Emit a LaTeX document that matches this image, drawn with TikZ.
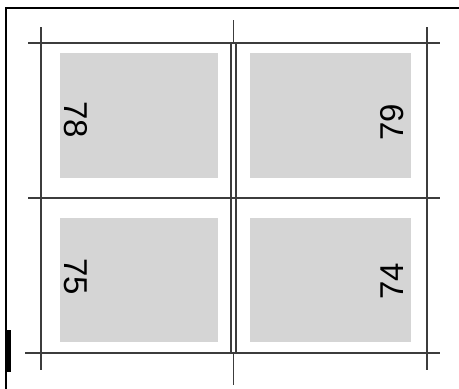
\documentclass[tikz,border=0pt]{standalone}
\usepackage{fontspec}
\setmainfont{Liberation Sans}
\definecolor{cardgrey}{RGB}{213,213,213}
\definecolor{linegrey}{RGB}{60,60,60}
\begin{document}
\begin{tikzpicture}[x=1pt,y=-1pt,
  card/.style={fill=cardgrey,draw=none,inner sep=0pt,outer sep=0pt},
  num/.style={font=\fontsize{33}{33}\selectfont,text=black,inner sep=0pt},
  crop/.style={draw=linegrey,line width=1.1pt},
  frame/.style={draw=black,line width=1.6pt}]
\useasboundingbox[fill=white] (0,0) rectangle (459,389);
% outer frame
\draw[frame] (6,389) -- (6,8) -- (459,8);
\fill[black] (6,330) rectangle (11,372);
% cards
\node[card,minimum width=158pt,minimum height=125pt] (c78) at (139,115.5) {};
\node[card,minimum width=161pt,minimum height=125pt] (c79) at (330.5,115.5) {};
\node[card,minimum width=158pt,minimum height=124pt] (c75) at (139,280) {};
\node[card,minimum width=161pt,minimum height=124pt] (c74) at (330.5,280) {};
% numbers
\node[num,rotate=-90] (n78) at (76,120) {78};
\node[num,rotate=90] (n79) at (392,122) {79};
\node[num,rotate=-90] (n75) at (76,277) {75};
\node[num,rotate=90] (n74) at (392,281) {74};
% crop lines
\draw[crop] (28,43) -- (440,43);
\draw[crop] (28,198) -- (440,198);
\draw[crop] (25,353) -- (440,353);
\draw[crop] (41,27) -- (41,370);
\draw[crop] (427,27) -- (427,370);
\draw[crop] (231,43) -- (231,353);
\draw[crop] (236,43) -- (236,353);
\draw[crop] (233.5,20) -- (233.5,43);
\draw[crop] (233.5,353) -- (233.5,385);
\end{tikzpicture}
\end{document}
